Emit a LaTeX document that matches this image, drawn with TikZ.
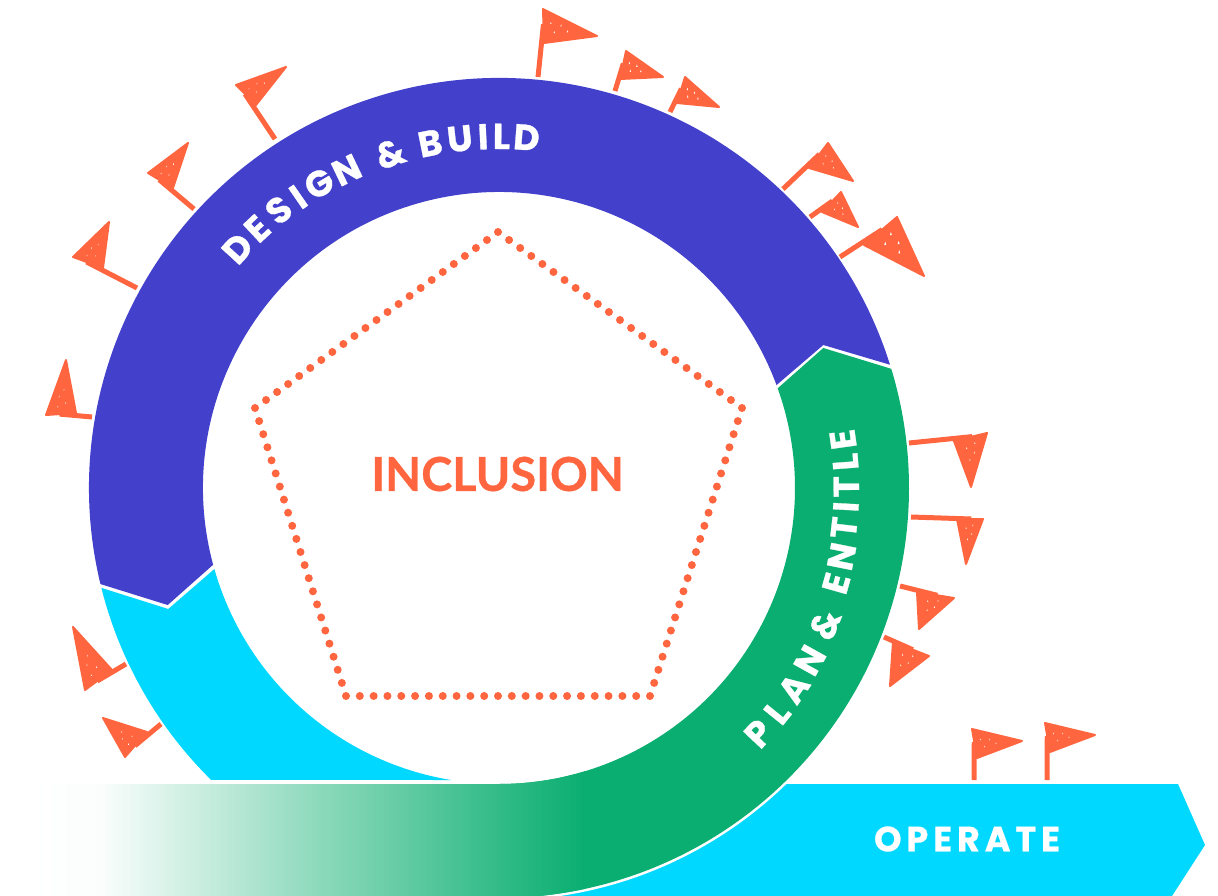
\documentclass[tikz,border=0pt]{standalone}
\usepackage{fontspec}
\usetikzlibrary{calc}
\setmainfont{Lato}
\newfontfamily\titlefont[FakeBold=0.6]{Lato}
\newfontfamily\popfont[LetterSpace=14,FakeBold=0.6]{Poppins}
\newfontfamily\arcfont[FakeBold=0.8]{Poppins}
\definecolor{ringpurple}{RGB}{67,64,204}
\definecolor{ringgreen}{RGB}{10,174,112}
\definecolor{ringcyan}{RGB}{0,216,255}
\definecolor{flagorange}{RGB}{255,102,64}
\colorlet{fadeA}{ringgreen!2!white}
\colorlet{fadeB}{ringgreen!22!white}
\colorlet{fadeC}{ringgreen!43!white}
\colorlet{fadeD}{ringgreen!63!white}
\colorlet{fadeE}{ringgreen!84!white}
\pgfdeclarehorizontalshading{fadeband}{100bp}{color(0bp)=(white); color(25bp)=(white); color(31.3bp)=(fadeA); color(40.3bp)=(fadeB); color(49.3bp)=(fadeC); color(58.3bp)=(fadeD); color(67.3bp)=(fadeE); color(75bp)=(ringgreen); color(100bp)=(ringgreen)}
\tikzset{
  ctr/.style={shift={(499,-488)}},
  pole/.style={draw=flagorange,line width=5pt,line cap=butt},
  cloth/.style={fill=flagorange,draw=flagorange,line width=2pt,line join=round},
  arcletter/.style={text=white,inner sep=0pt,outer sep=0pt,anchor=center,text height=26pt,text depth=0pt,font=\arcfont\bfseries\fontsize{36}{36}\selectfont},
  dot/.style={fill=flagorange},
}
% base, attach, top, tip, speck size
\newcommand{\pennant}[9]{%
  \coordinate (B) at (#1,-#2);
  \coordinate (A) at (#3,-#4);
  \coordinate (T) at (#5,-#6);
  \coordinate (P) at (#7,-#8);
  \draw[pole] (B) -- ($(A)!.55!(T)$);
  \path[cloth] (A) -- (T) -- (P) -- cycle;
  \foreach \u/\v in {.14/.3,.33/.22,.2/.52,.45/.3}{
    \fill[white] ($(T)!\u!(P)+\v*(A)-\v*(T)$) ++(0,.8*#9) -- ++(.45*#9,-1.5*#9) -- ++(-.9*#9,0) -- cycle;
  }
}
\begin{document}
\begin{tikzpicture}[x=1pt,y=1pt]
\useasboundingbox (0,-896) rectangle (1218,0);
\clip (0,-896) rectangle (1218,0);
% operate band
\fill[ringcyan] (500,-784) -- (1178,-784) -- (1205,-845) -- (1172,-896) -- (500,-896) -- cycle;
\fill[white] (499,-488) circle[radius=412.5];
% cyan ring part
\fill[ringcyan] ([ctr]194.1:410) arc (194.1:225.4:410) -- (451,-780) arc (260.66:195.9:296) -- (168.3,-609) -- cycle;
% purple ring part
\fill[ringpurple] ([ctr]17.5:410) arc (17.5:193.55:410) -- (167.7,-605) -- ([ctr]195.03:296) arc (195.03:20.35:296) -- (823.3,-345) -- cycle;
% green ring part with fading band
\begin{scope}
  \path[clip] (30,-784) -- (499,-784) arc (270:379.68:296) -- (823.3,-348) -- ([ctr]16.9:410) arc (16.9:-84.4:410) -- (30,-896) -- cycle;
  \fill[ringgreen] (30,-896) rectangle (1000,-300);
  \path[shading=fadeband] (30,-896) rectangle (585,-700);
\end{scope}
% pentagon
\coordinate (pa) at (498,-232);
\coordinate (pb) at (742,-408);
\coordinate (pc) at (650,-696);
\coordinate (pd) at (346,-696);
\coordinate (pe) at (255,-408);
\foreach \s/\e in {pa/pb,pb/pc,pc/pd,pd/pe,pe/pa}{
  \foreach \t in {0,...,21}{
    \fill[dot] ($(\s)!\t/22!(\e)$) circle[radius=4];
  }
}
% texts
\node[text=flagorange,font=\titlefont\bfseries\fontsize{46.8}{46.8}\selectfont] (inc) at (497.5,-474) {INCLUSION};
\node[text=white,font=\popfont\bfseries\fontsize{35}{35}\selectfont] (ope) at (967,-839) {OPERATE};
\foreach \ch/\ang/\rad [count=\i] in {D/137.5/355,E/133/355,S/128.4/355,I/124.6/354,G/120.6/354,N/115.6/353,\&/108/352,B/101.3/352,U/96.4/352,I/92.6/352,L/89.6/352,D/85.5/352}{
  \node[arcletter,rotate=\ang-90] (des\i) at ([ctr]\ang:\rad) {\ch};
}
\foreach \ch/\ang/\rad [count=\i] in {P/-43.4/357,L/-38.9/357,A/-34.2/356,N/-29/355,\&/-22.7/353,E/-15.8/350,N/-11.3/349,T/-6.6/347,I/-3.1/347,T/0.2/347,L/4.3/347,E/8/347}{
  \node[arcletter,rotate=\ang+90] (pla\i) at ([ctr]\ang:\rad) {\ch};
}
% flags
\pennant{783}{189}{809}{168}{828}{143}{853}{181}{1.2}
\pennant{810}{217}{822}{212}{841}{192}{858}{227}{1.2}
\pennant{840}{257}{864}{245}{897}{217}{924}{276}{2.2}
\pennant{538}{77}{544}{43}{543}{9}{597}{36}{1.4}
\pennant{615}{91}{620}{79}{626}{51}{663}{77}{1.6}
\pennant{670}{112}{677}{103}{685}{77}{719}{107}{1.6}
\pennant{275}{139}{256}{105}{236}{85}{286}{67}{.9}
\pennant{194}{209}{173}{188}{148}{173}{188}{143}{1.1}
\pennant{137}{288}{103}{268}{73}{257}{109}{222}{.9}
\pennant{92}{417}{76}{413}{46}{415}{66}{360}{1.1}
\pennant{909}{443}{954}{441}{987}{433}{971}{487}{1.2}
\pennant{911}{517}{957}{519}{983}{519}{966}{564}{1.1}
\pennant{900}{586}{917}{592}{954}{598}{919}{629}{1.2}
\pennant{884}{637}{893}{642}{929}{656}{890}{686}{1.3}
\pennant{126}{664}{112}{670}{85}{690}{73}{627}{1.1}
\pennant{161}{724}{147}{732}{125}{757}{103}{718}{1.1}
\pennant{974}{780}{977}{758}{972}{729}{1022}{741}{1}
\pennant{1047}{780}{1050}{752}{1045}{723}{1095}{735}{1}
\end{tikzpicture}
\end{document}
